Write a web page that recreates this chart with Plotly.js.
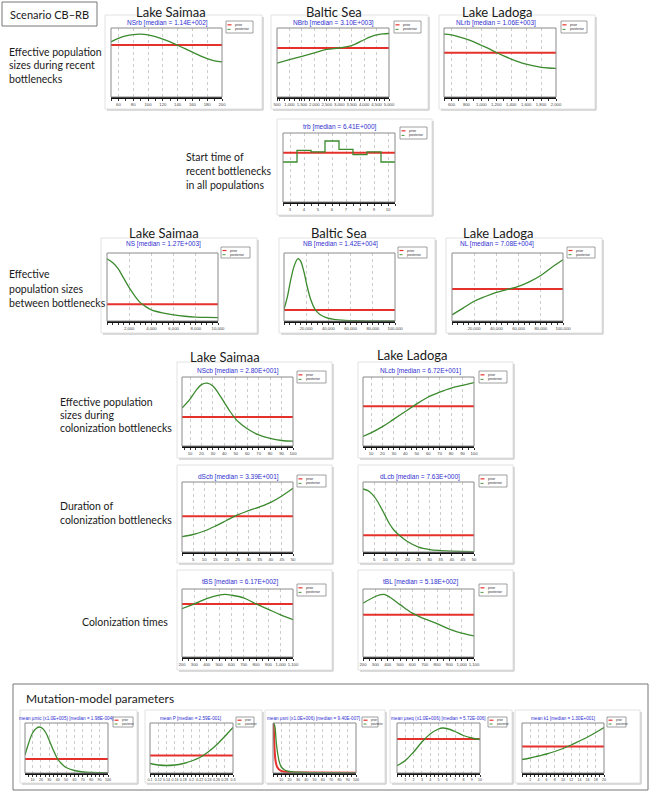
<!DOCTYPE html>
<html><head><meta charset="utf-8">
<script src="https://cdn.plot.ly/plotly-3.0.1.min.js"></script>
<style>body{margin:0;background:#fff}#chart{width:651px;height:791px}</style>
</head><body><div id="chart"></div>
<script>
// ================= DATA (relative density) =================
const nsrbTicks = [60,80,100,120,140,160,180,200];
const nsrbX = [50,60,70,80,90,100,110,120,130,140,150,160,170,180,190,200];
const nsrbPost = [0.80,0.85,0.885,0.905,0.91,0.90,0.875,0.84,0.80,0.75,0.70,0.65,0.60,0.555,0.525,0.51];
const nsrbPrior = 0.754;

const nbrbTicks = [500,1000,1500,2000,2500,3000,3500,4000,4500,5000];
const nbrbX = [500,1000,1500,2000,2500,3000,3500,4000,4250,4500,4750,5000];
const nbrbPost = [0.49,0.54,0.59,0.64,0.69,0.71,0.745,0.83,0.87,0.90,0.915,0.92];
const nbrbPrior = 0.71;

const nlrbTicks = [600,800,1000,1200,1400,1600,1800,2000];
const nlrbX = [500,600,700,800,900,1000,1100,1200,1300,1400,1500,1600,1700,1800,1900,2000];
const nlrbPost = [0.91,0.90,0.87,0.84,0.80,0.75,0.70,0.645,0.595,0.55,0.51,0.475,0.45,0.43,0.42,0.415];
const nlrbPrior = 0.64;

const trbTicks = [3,4,5,6,7,8,9,10];
const trbX = [2.5,3,4,5,6,7,8,9,10,10.5];
const trbPost = [0.58,0.58,0.749,0.725,0.884,0.763,0.686,0.725,0.58,0.58];
const trbPrior = 0.715;

const nsTicks = [2000,4000,6000,8000,10000];
const nsX = [0,500,1000,1500,2000,2500,3000,3500,4000,5000,6000,7000,8000,9000,10000];
const nsPost = [0.916,0.86,0.77,0.63,0.49,0.37,0.27,0.21,0.165,0.12,0.09,0.07,0.058,0.052,0.05];
const nsPrior = 0.246;

const nbTicks = [20000,40000,60000,80000,100000];
const nbX = [0,3000,6000,9000,12000,13000,15000,18000,21000,24000,28000,32000,38000,45000,55000,65000,80000,100000];
const nbPost = [0.17,0.35,0.6,0.8,0.91,0.915,0.88,0.72,0.5,0.32,0.17,0.1,0.05,0.025,0.01,0.004,0.001,0];
const nbPrior = 0.16;

const nlTicks = [20000,40000,60000,80000,100000];
const nlX = [0,10000,20000,30000,40000,50000,60000,70000,80000,90000,100000];
const nlPost = [0.09,0.19,0.29,0.36,0.42,0.465,0.51,0.58,0.67,0.79,0.9];
const nlPrior = 0.47;

const cbTicks = [10,20,30,40,50,60,70,80,90,100];
const nscbX = [3,10,15,20,25,30,35,40,45,50,55,60,70,80,90,100];
const nscbPost = [0.55,0.68,0.8,0.89,0.91,0.87,0.76,0.63,0.5,0.39,0.31,0.25,0.16,0.11,0.08,0.07];
const nscbPrior = 0.42;

const nlcbX = [3,10,20,30,40,50,60,70,80,90,100];
const nlcbPost = [0.14,0.19,0.28,0.39,0.5,0.61,0.71,0.78,0.84,0.88,0.92];
const nlcbPrior = 0.575;

const dTicks = [5,10,15,20,25,30,35,40,45,50];
const dscbX = [0,5,10,15,20,25,30,35,40,45,50];
const dscbPost = [0.22,0.25,0.3,0.37,0.45,0.53,0.59,0.645,0.71,0.8,0.91];
const dscbPrior = 0.51;

const dlcbX = [0,2,4,6,8,10,12,14,17,20,25,30,35,40,50];
const dlcbPost = [0.9,0.88,0.83,0.75,0.64,0.52,0.4,0.31,0.22,0.15,0.07,0.035,0.02,0.012,0.006];
const dlcbPrior = 0.24;

const tTicks = [200,300,400,500,600,700,800,900,1000,1100];
const tbsX = [200,300,400,500,550,600,700,800,900,1000,1100];
const tbsPost = [0.71,0.78,0.86,0.91,0.92,0.91,0.87,0.78,0.7,0.62,0.55];
const tbsPrior = 0.78;

const tblX = [200,300,360,400,500,600,700,800,900,1000,1100];
const tblPost = [0.79,0.89,0.92,0.9,0.77,0.645,0.56,0.49,0.41,0.35,0.31];
const tblPrior = 0.62;

const umicTicks = [10,20,30,40,50,60,70,80,90,100];
const umicX = [1,5,10,15,18,22,26,30,35,40,45,50,60,70,80,100];
const umicPost = [0.36,0.58,0.8,0.9,0.92,0.89,0.8,0.65,0.45,0.28,0.18,0.11,0.05,0.02,0.01,0.005];
const umicPrior = 0.28;

const pTicks = [0.1,0.12,0.14,0.16,0.18,0.2,0.22,0.24,0.26,0.28,0.3];
const pX = [0.1,0.12,0.14,0.16,0.18,0.2,0.22,0.24,0.26,0.28,0.3];
const pPost = [0.19,0.16,0.15,0.16,0.19,0.24,0.31,0.42,0.56,0.73,0.91];
const pPrior = 0.35;

const usniTicks = [10,20,30,40,50,60,70,80,90,100];
const usniPriorX = [0.5,1,2,3,5,8,12,20,40,100];
const usniPriorY = [1.0,0.85,0.45,0.25,0.12,0.06,0.03,0.015,0.01,0.005];
const usniX = [0.5,2,4,6,8,10,14,20,30,50,100];
const usniPost = [1.0,0.95,0.6,0.35,0.2,0.12,0.06,0.03,0.015,0.008,0.003];

const useqTicks = [1,2,3,4,5,6,7,8,9,10];
const useqX = [0,1,2,3,4,5,5.5,6,7,8,9,10];
const useqPost = [0.145,0.25,0.42,0.62,0.78,0.88,0.9,0.89,0.83,0.75,0.7,0.67];
const useqPrior = 0.68;

const k1Ticks = [2,4,6,8,10,12,14,16,18,20];
const k1X = [0,2,4,6,8,10,12,14,16,18,20];
const k1Post = [0.27,0.3,0.34,0.38,0.43,0.49,0.56,0.64,0.72,0.81,0.91];
const k1Prior = 0.53;

// ================= LAYOUT CONFIG (pixel positions) =================
const W = 651, H = 791;
const big = {sub:6.5, tick:4.2, leg:3.6};
const small = {sub:4.6, tick:3.6, leg:3.0};
const panels = [
 {sub:'NSrb [median = 1.14E+002]', x:nsrbX, y:nsrbPost, prior:nsrbPrior, range:[50,200], ticks:nsrbTicks, plot:[111,222,28,97], subX:167, subY:23, leg:[226,21,253,33], frame:[105,15,262,109], s:big},
 {sub:'NBrb [median = 3.10E+003]', x:nbrbX, y:nbrbPost, prior:nbrbPrior, range:[500,5000], ticks:nbrbTicks, plot:[277,389,28,97], subX:333, subY:23, leg:[394,21,421,33], frame:[271,15,428,109], s:big},
 {sub:'NLrb [median = 1.06E+003]', x:nlrbX, y:nlrbPost, prior:nlrbPrior, range:[500,2000], ticks:nlrbTicks, plot:[444,556,28,97], subX:496, subY:23, leg:[561,21,587,33], frame:[439,15,595,109], s:big},
 {sub:'trb [median = 6.41E+000]', x:trbX, y:trbPost, prior:trbPrior, range:[2.5,10.5], ticks:trbTicks, plot:[283,395,133,202], subX:340, subY:127, leg:[400,127,427,139], frame:[277,119,432,215], s:big, step:true},
 {sub:'NS [median = 1.27E+003]', x:nsX, y:nsPost, prior:nsPrior, range:[0,10000], ticks:nsTicks, plot:[107,218,253,321], subX:163, subY:244, leg:[221,247,250,258], frame:[101,238,257,333], s:big},
 {sub:'NB [median = 1.42E+004]', x:nbX, y:nbPost, prior:nbPrior, range:[0,100000], ticks:nbTicks, plot:[284,395,253,321], subX:340, subY:244, leg:[398,247,427,258], frame:[279,238,435,333], s:big},
 {sub:'NL [median = 7.08E+004]', x:nlX, y:nlPost, prior:nlPrior, range:[0,100000], ticks:nlTicks, plot:[452,563,253,321], subX:497, subY:244, leg:[567,247,595,258], frame:[446,238,602,333], s:big},
 {sub:'NScb [median = 2.80E+001]', x:nscbX, y:nscbPost, prior:nscbPrior, range:[3,100], ticks:cbTicks, plot:[182,293,377,446], subX:238, subY:371, leg:[297,371,326,383], frame:[177,362,332,458], s:big},
 {sub:'NLcb [median = 6.72E+001]', x:nlcbX, y:nlcbPost, prior:nlcbPrior, range:[3,100], ticks:cbTicks, plot:[363,474,377,446], subX:420, subY:371, leg:[479,371,507,383], frame:[358,362,513,458], s:big},
 {sub:'dScb [median = 3.39E+001]', x:dscbX, y:dscbPost, prior:dscbPrior, range:[0,50], ticks:dTicks, plot:[182,293,482,552], subX:238, subY:477, leg:[297,475,326,487], frame:[177,465,332,563], s:big},
 {sub:'dLcb [median = 7.63E+000]', x:dlcbX, y:dlcbPost, prior:dlcbPrior, range:[0,50], ticks:dTicks, plot:[363,474,482,552], subX:420, subY:477, leg:[479,475,507,487], frame:[358,465,513,563], s:big},
 {sub:'tBS [median = 6.17E+002]', x:tbsX, y:tbsPost, prior:tbsPrior, range:[200,1100], ticks:tTicks, plot:[182,293,589,657], subX:240, subY:582, leg:[297,584,326,596], frame:[177,570,332,670], s:big},
 {sub:'tBL [median = 5.18E+002]', x:tblX, y:tblPost, prior:tblPrior, range:[200,1100], ticks:tTicks, plot:[363,474,589,657], subX:420, subY:582, leg:[479,584,507,596], frame:[358,570,513,670], s:big},
 {sub:'mean µmic (x1.0E+005) [median = 1.98E-004]', x:umicX, y:umicPost, prior:umicPrior, range:[1,100], ticks:umicTicks, plot:[25,108,723,773], subX:66, subY:718, leg:[113,717,133,727], frame:[20,710,137,783], s:small},
 {sub:'mean P [median = 2.59E-001]', x:pX, y:pPost, prior:pPrior, range:[0.1,0.3], ticks:pTicks, plot:[150,233,723,773], subX:190, subY:718, leg:[236,717,254,727], frame:[145,710,262,783], s:small},
 {sub:'mean µsni (x1.0E+006) [median = 9.40E-007]', x:usniX, y:usniPost, priorX:usniPriorX, priorY:usniPriorY, range:[0,100], ticks:usniTicks, plot:[273,356,723,773], subX:313, subY:718, leg:[362,717,378,727], frame:[265,710,385,783], s:small},
 {sub:'mean µseq (x1.0E+006) [median = 5.72E-006]', x:useqX, y:useqPost, prior:useqPrior, range:[0,10], ticks:useqTicks, plot:[397,480,723,773], subX:438, subY:718, leg:[488,717,507,727], frame:[390,710,512,783], s:small},
 {sub:'mean k1 [median = 1.30E+001]', x:k1X, y:k1Post, prior:k1Prior, range:[0,20], ticks:k1Ticks, plot:[522,604,723,773], subX:563, subY:718, leg:[607,717,626,727], frame:[515,710,640,783], s:small}
];

const PRIOR_COL = '#e5302b', POST_COL = '#3b8a2e', SUB_COL = '#2f2fd0';
const px = v => v / W, py = v => 1 - v / H;

const traces = [], shapes = [], annotations = [];
const layout = {
  width: W, height: H, margin: {l:0, r:0, t:0, b:0},
  paper_bgcolor: '#fff', plot_bgcolor: '#fff', showlegend: false,
  font: {family: 'Liberation Sans, Arial, sans-serif'}
};

panels.forEach((p, i) => {
  const n = i === 0 ? '' : String(i + 1);
  const [x0, x1, y0, y1] = p.plot;
  const [fx0, fy0, fx1, fy1] = p.frame;
  shapes.push({type:'rect', xref:'paper', yref:'paper', x0:px(fx0), x1:px(fx1), y0:py(fy1), y1:py(fy0), line:{color:'#e2e2e2', width:1}, layer:'below'});
  shapes.push({type:'line', xref:'paper', yref:'paper', x0:px(fx1+1), x1:px(fx1+1), y0:py(fy1+1), y1:py(fy0+2), line:{color:'#cfcfcf', width:1.5}, layer:'below'});
  shapes.push({type:'line', xref:'paper', yref:'paper', x0:px(fx0+2), x1:px(fx1+1), y0:py(fy1+1), y1:py(fy1+1), line:{color:'#cfcfcf', width:1.5}, layer:'below'});

  const fmt = p.range[1] >= 1000 ? ',d' : '';
  layout['xaxis' + n] = {
    domain:[px(x0), px(x1)], range:p.range, anchor:'y' + n,
    tickmode:'array', tickvals:p.ticks, tickformat:fmt, tickangle:0,
    showgrid:true, gridcolor:'#cdcdcd', griddash:'dot', gridwidth:1,
    showline:true, linecolor:'#111', linewidth:2, zeroline:false,
    ticks:'outside', ticklen:1.5, tickcolor:'#333', tickwidth:1,
    minor:{ticks:'outside', ticklen:1.5, tickcolor:'#333', nticks:5, showgrid:false},
    tickfont:{size:p.s.tick, color:'#444', family:'Liberation Sans, Arial'},
    fixedrange:true
  };
  layout['yaxis' + n] = {domain:[py(y1), py(y0)], range:[0, 1], anchor:'x' + n, visible:false, fixedrange:true};

  shapes.push({type:'rect', xref:'x' + n + ' domain', yref:'y' + n + ' domain', x0:0, x1:1, y0:0, y1:1, line:{color:'#8a8a8a', width:1}, layer:'above'});

  const priorX = p.priorX || [p.range[0], p.range[1]];
  const priorY = p.priorY || [p.prior, p.prior];
  traces.push({type:'scatter', mode:'lines', x:priorX, y:priorY, xaxis:'x' + n, yaxis:'y' + n,
    line:{color:PRIOR_COL, width:2, shape:p.priorX ? 'spline' : 'linear'}, hoverinfo:'skip'});
  traces.push({type:'scatter', mode:'lines', x:p.x, y:p.y, xaxis:'x' + n, yaxis:'y' + n,
    line:{color:POST_COL, width:1.3, shape:p.step ? 'hvh' : 'spline', smoothing:1}, hoverinfo:'skip'});

  annotations.push({xref:'paper', yref:'paper', x:px(p.subX), y:py(p.subY), xanchor:'center', yanchor:'middle',
    text:p.sub, showarrow:false, font:{size:p.s.sub, color:SUB_COL, family:'Liberation Sans, Arial'}});

  const [lx0, ly0, lx1, ly1] = p.leg;
  const h = ly1 - ly0;
  shapes.push({type:'rect', xref:'paper', yref:'paper', x0:px(lx0), x1:px(lx1), y0:py(ly1), y1:py(ly0), line:{color:'#888', width:0.8}, fillcolor:'#fff', layer:'above'});
  const ya = ly0 + h * 0.32, yb = ly0 + h * 0.7;
  shapes.push({type:'line', xref:'paper', yref:'paper', x0:px(lx0 + 1.5), x1:px(lx0 + 5.5), y0:py(ya), y1:py(ya), line:{color:PRIOR_COL, width:1.2}, layer:'above'});
  shapes.push({type:'line', xref:'paper', yref:'paper', x0:px(lx0 + 1.5), x1:px(lx0 + 5.5), y0:py(yb), y1:py(yb), line:{color:POST_COL, width:0.9, dash:'dot'}, layer:'above'});
  annotations.push({xref:'paper', yref:'paper', x:px(lx0 + 7), y:py(ya), xanchor:'left', yanchor:'middle', text:'prior', showarrow:false, font:{size:p.s.leg, color:'#333'}});
  annotations.push({xref:'paper', yref:'paper', x:px(lx0 + 7), y:py(yb), xanchor:'left', yanchor:'middle', text:'posterior', showarrow:false, font:{size:p.s.leg, color:'#333'}});
});

// ================= TEXT LABELS =================
const TF = 'Lato, Open Sans, sans-serif';
function label(text, x, y, size, anchor) {
  annotations.push({xref:'paper', yref:'paper', x:px(x), y:py(y), xanchor:anchor || 'left', yanchor:'middle',
    text:text, showarrow:false, font:{size:size, color:'#1a1a1a', family:TF}});
}
shapes.push({type:'rect', xref:'paper', yref:'paper', x0:px(2), x1:px(97), y0:py(26), y1:py(2), line:{color:'#777', width:1}});
label('Scenario CB\u2013RB', 49.5, 14, 11, 'center');
label('Lake Saimaa', 171, 12, 13, 'center');
label('Baltic Sea', 334, 12, 13, 'center');
label('Lake Ladoga', 497, 12, 13, 'center');
label('Lake Saimaa', 164, 233, 13, 'center');
label('Baltic Sea', 339, 233, 13, 'center');
label('Lake Ladoga', 498, 233, 13, 'center');
label('Lake Saimaa', 225, 357, 13, 'center');
label('Lake Ladoga', 412, 355, 13, 'center');
const LS = 10.5;
label('Effective population', 7, 52, LS);
label('sizes during recent', 7, 65.5, LS);
label('bottlenecks', 7, 79, LS);
label('Start time of', 184, 157, LS);
label('recent bottlenecks', 184, 171, LS);
label('in all populations', 184, 185, LS);
label('Effective', 7, 274, LS);
label('population sizes', 7, 289, LS);
label('between bottlenecks', 7, 303, LS);
label('Effective population', 58, 402, LS);
label('sizes during', 58, 415, LS);
label('colonization bottlenecks', 58, 428, LS);
label('Duration of', 58, 506, LS);
label('colonization bottlenecks', 58, 520, LS);
label('Colonization times', 80, 622, LS);
shapes.push({type:'rect', xref:'paper', yref:'paper', x0:px(13), x1:px(648), y0:py(790), y1:py(684), line:{color:'#777', width:1}});
label('Mutation-model parameters', 24, 698, 12);

layout.shapes = shapes;
layout.annotations = annotations;
Plotly.newPlot('chart', traces, layout, {staticPlot:true, displayModeBar:false});
</script>
</body></html>
